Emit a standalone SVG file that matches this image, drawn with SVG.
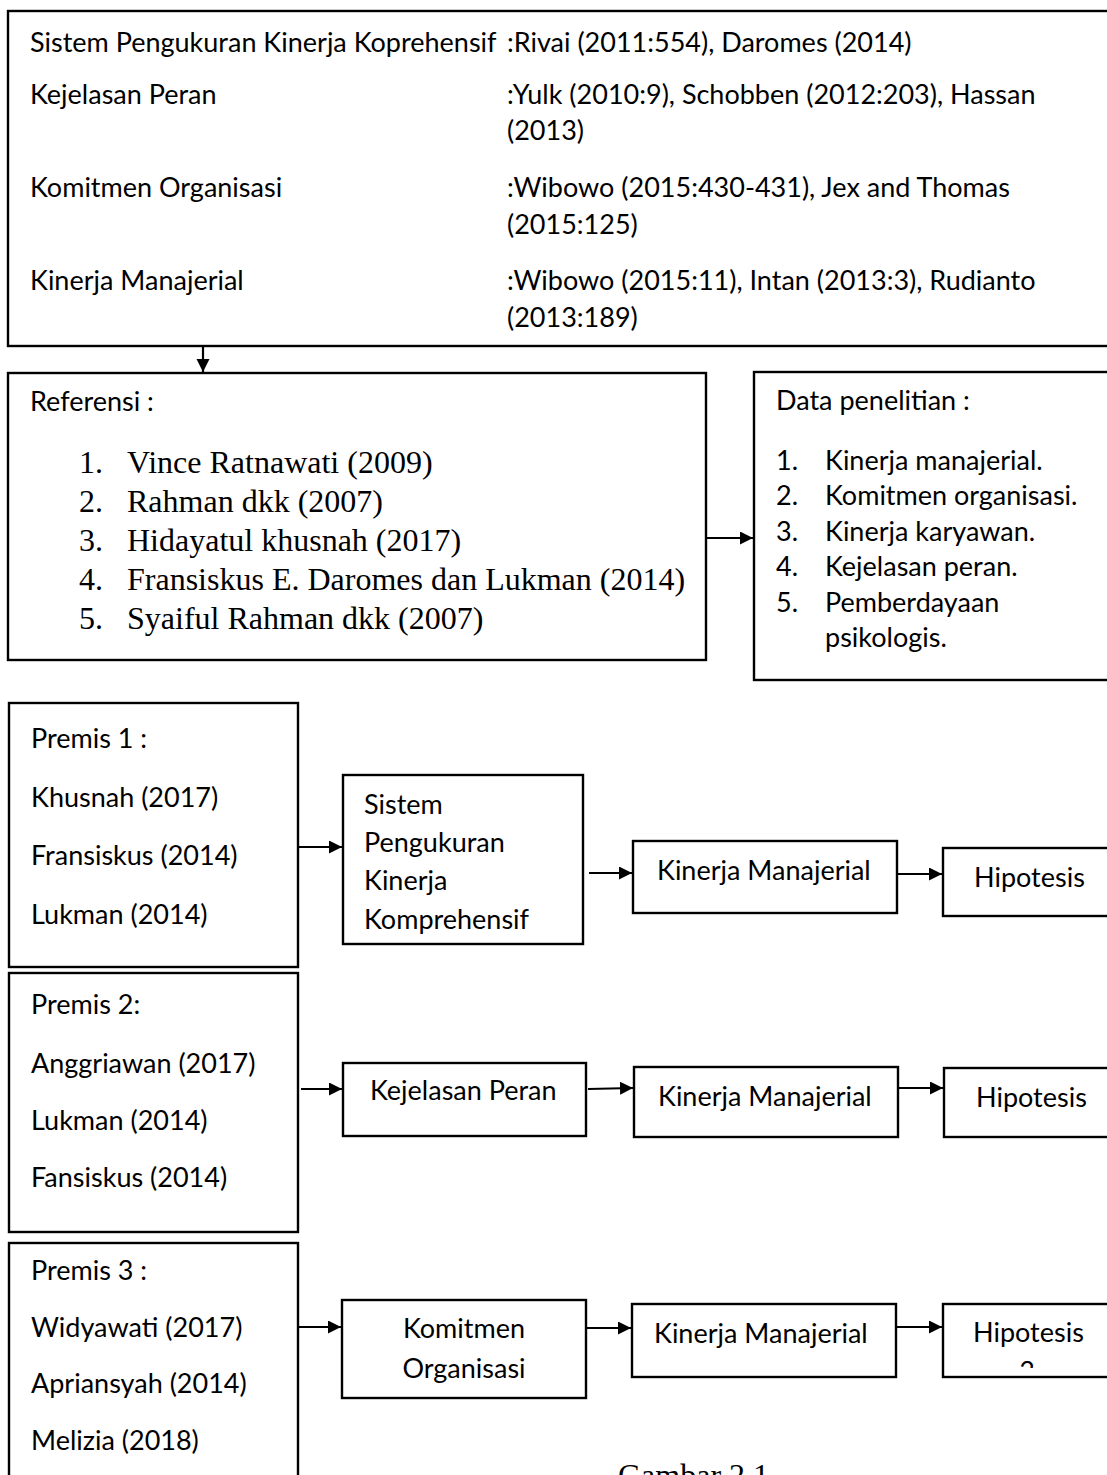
<svg xmlns="http://www.w3.org/2000/svg" width="1107" height="1475" viewBox="0 0 1107 1475">
<style>
.bx{fill:#fff;stroke:#000;stroke-width:2.4}
.c{font-family:Lato,"Liberation Sans",sans-serif;font-size:27px;fill:#000}
.t{font-family:"Liberation Serif","Times New Roman",serif;font-size:32px;fill:#000}
.ln{stroke:#000;stroke-width:2.2;fill:none;marker-end:url(#ah)}
</style>
<defs>
<marker id="ah" markerUnits="userSpaceOnUse" markerWidth="14" markerHeight="14" refX="13" refY="6.5" orient="auto">
<path d="M0,0 L13,6.5 L0,13 Z" fill="#000"/>
</marker>
<clipPath id="h3clip"><rect x="943" y="1304" width="170" height="64"/></clipPath>
</defs>
<rect width="1107" height="1475" fill="#fff"/>

<g id="top-box">
<rect class="bx" x="8" y="11" width="1120" height="335"/>
<text class="c" x="30" y="52">Sistem Pengukuran Kinerja Koprehensif</text>
<text class="c" x="507" y="52">:Rivai (2011:554), Daromes (2014)</text>
<text class="c" x="30" y="104">Kejelasan Peran</text>
<text class="c" x="507" y="104">:Yulk (2010:9), Schobben (2012:203), Hassan</text>
<text class="c" x="507" y="140">(2013)</text>
<text class="c" x="30" y="197">Komitmen Organisasi</text>
<text class="c" x="507" y="197">:Wibowo (2015:430-431), Jex and Thomas</text>
<text class="c" x="507" y="234">(2015:125)</text>
<text class="c" x="30" y="290">Kinerja Manajerial</text>
<text class="c" x="507" y="290">:Wibowo (2015:11), Intan (2013:3), Rudianto</text>
<text class="c" x="507" y="327">(2013:189)</text>
</g>

<g id="referensi">
<rect class="bx" x="8" y="373" width="698" height="287"/>
<text class="c" x="30" y="411">Referensi :</text>
<text class="t" x="79" y="473">1.</text><text class="t" x="127" y="473">Vince Ratnawati (2009)</text>
<text class="t" x="79" y="512">2.</text><text class="t" x="127" y="512">Rahman dkk (2007)</text>
<text class="t" x="79" y="551">3.</text><text class="t" x="127" y="551">Hidayatul khusnah (2017)</text>
<text class="t" x="79" y="590">4.</text><text class="t" x="127" y="590">Fransiskus E. Daromes dan Lukman (2014)</text>
<text class="t" x="79" y="629">5.</text><text class="t" x="127" y="629">Syaiful Rahman dkk (2007)</text>
</g>

<g id="data-penelitian">
<rect class="bx" x="754" y="372" width="380" height="308"/>
<text class="c" x="776" y="410">Data penelitian :</text>
<text class="c" x="776" y="470">1.</text><text class="c" x="825" y="470">Kinerja manajerial.</text>
<text class="c" x="776" y="505">2.</text><text class="c" x="825" y="505">Komitmen organisasi.</text>
<text class="c" x="776" y="541">3.</text><text class="c" x="825" y="541">Kinerja karyawan.</text>
<text class="c" x="776" y="576">4.</text><text class="c" x="825" y="576">Kejelasan peran.</text>
<text class="c" x="776" y="612">5.</text><text class="c" x="825" y="612">Pemberdayaan</text>
<text class="c" x="825" y="647">psikologis.</text>
</g>

<g id="premis1">
<rect class="bx" x="9" y="703" width="289" height="264"/>
<text class="c" x="31" y="748">Premis 1 :</text>
<text class="c" x="31" y="807">Khusnah (2017)</text>
<text class="c" x="31" y="865">Fransiskus (2014)</text>
<text class="c" x="31" y="924">Lukman (2014)</text>
</g>
<g id="spkk">
<rect class="bx" x="343" y="775" width="240" height="169"/>
<text class="c" x="364" y="814">Sistem</text>
<text class="c" x="364" y="852">Pengukuran</text>
<text class="c" x="364" y="890">Kinerja</text>
<text class="c" x="364" y="929">Komprehensif</text>
</g>
<g id="km1">
<rect class="bx" x="633" y="841" width="264" height="72"/>
<text class="c" x="657" y="880">Kinerja Manajerial</text>
</g>
<g id="h1">
<rect class="bx" x="943" y="848" width="180" height="68"/>
<text class="c" x="974" y="887">Hipotesis</text>
</g>

<g id="premis2">
<rect class="bx" x="9" y="973" width="289" height="259"/>
<text class="c" x="31" y="1014">Premis 2:</text>
<text class="c" x="31" y="1073">Anggriawan (2017)</text>
<text class="c" x="31" y="1130">Lukman (2014)</text>
<text class="c" x="31" y="1187">Fansiskus (2014)</text>
</g>
<g id="kp">
<rect class="bx" x="343" y="1063" width="243" height="73"/>
<text class="c" x="370" y="1100">Kejelasan Peran</text>
</g>
<g id="km2">
<rect class="bx" x="634" y="1067" width="264" height="70"/>
<text class="c" x="658" y="1106">Kinerja Manajerial</text>
</g>
<g id="h2">
<rect class="bx" x="944" y="1068" width="180" height="69"/>
<text class="c" x="976" y="1107">Hipotesis</text>
</g>

<g id="premis3">
<rect class="bx" x="9" y="1243" width="289" height="260"/>
<text class="c" x="31" y="1280">Premis 3 :</text>
<text class="c" x="31" y="1337">Widyawati (2017)</text>
<text class="c" x="31" y="1393">Apriansyah (2014)</text>
<text class="c" x="31" y="1450">Melizia (2018)</text>
</g>
<g id="ko">
<rect class="bx" x="342" y="1300" width="244" height="98"/>
<text class="c" x="464" y="1338" text-anchor="middle">Komitmen</text>
<text class="c" x="464" y="1378" text-anchor="middle">Organisasi</text>
</g>
<g id="km3">
<rect class="bx" x="632" y="1304" width="264" height="73"/>
<text class="c" x="654" y="1343">Kinerja Manajerial</text>
</g>
<g id="h3">
<rect class="bx" x="943" y="1304" width="180" height="73"/>
<text class="c" x="973" y="1342">Hipotesis</text>
<text class="c" x="1027" y="1381" text-anchor="middle" clip-path="url(#h3clip)">3</text>
</g>

<text class="t" x="618" y="1486">Gambar 2.1</text>

<g id="connectors">
<line class="ln" x1="203" y1="346" x2="203" y2="372"/>
<line class="ln" x1="706" y1="538" x2="753" y2="538"/>
<line class="ln" x1="298" y1="847" x2="342" y2="847"/>
<line class="ln" x1="589" y1="873" x2="632" y2="873"/>
<line class="ln" x1="897" y1="874" x2="942" y2="874"/>
<line class="ln" x1="301" y1="1089" x2="342" y2="1089"/>
<line class="ln" x1="588" y1="1089" x2="633" y2="1088"/>
<line class="ln" x1="898" y1="1088" x2="943" y2="1088"/>
<line class="ln" x1="298" y1="1327" x2="341" y2="1327"/>
<line class="ln" x1="587" y1="1328" x2="631" y2="1328"/>
<line class="ln" x1="896" y1="1327" x2="942" y2="1327"/>
</g>
</svg>
